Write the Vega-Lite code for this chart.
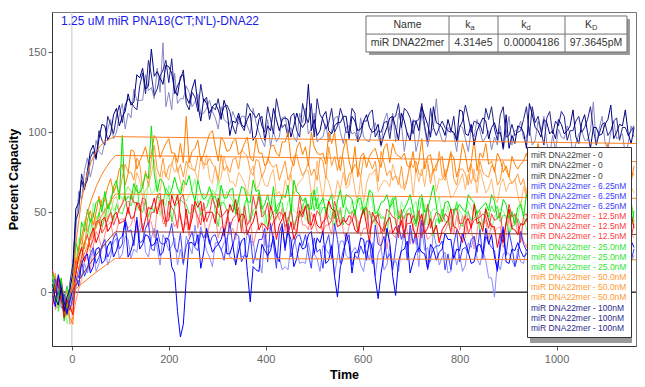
{
"$schema":"https://vega.github.io/schema/vega-lite/v6.json",
"width":584,"height":334,
"autosize":{"type":"none"},
"padding":{"left":52,"top":12,"right":9,"bottom":41},
"background":"#ffffff",
"config":{"view":{"stroke":"#777777"},"axis":{"grid":false,"labelFont":"Liberation Sans","titleFont":"Liberation Sans","labelColor":"#666666","labelFontSize":11,"titleFontSize":12.5,"titleFontWeight":"bold","titleColor":"#000000","domainColor":"#333333","tickColor":"#555555","tickSize":4},"text":{"font":"Liberation Sans"}},
"datasets":{
"zero":[{"t":-41,"s":"z1","v":0},{"t":1164,"s":"z1","v":0},{"t":-41,"s":"z2","v":0},{"t":1164,"s":"z2","v":0},{"t":-41,"s":"z3","v":0},{"t":1164,"s":"z3","v":0}],
"fits":[
{"t":0,"a":0,"b":0,"c":0,"d":0,"e":0},
{"t":10,"a":34.8,"b":19.4,"c":10.1,"d":5.2,"e":2.6},
{"t":20,"a":57.5,"b":35.0,"c":19.2,"d":10.1,"e":5.2},
{"t":30,"a":72.2,"b":47.6,"c":27.3,"d":14.7,"e":7.6},
{"t":40,"a":81.7,"b":57.7,"c":34.6,"d":19.1,"e":10.1},
{"t":50,"a":87.9,"b":65.9,"c":41.2,"d":23.2,"e":12.4},
{"t":60,"a":91.9,"b":72.5,"c":47.1,"d":27.2,"e":14.7},
{"t":70,"a":94.5,"b":77.8,"c":52.4,"d":30.9,"e":16.9},
{"t":80,"a":96.2,"b":82.1,"c":57.1,"d":34.5,"e":19.1},
{"t":90,"a":97.3,"b":85.5,"c":61.4,"d":37.8,"e":21.2},
{"t":600,"a":95.2,"b":83.7,"c":60.1,"d":37.0,"e":20.8},
{"t":1164,"a":93.0,"b":81.7,"c":58.7,"d":36.1,"e":20.3}],
"traces":[
{"t":-40,"n1":5,"n2":-3,"n3":8,"o1":-6,"o2":10,"o3":2,"g1":12,"g2":-4,"g3":3,"r1":-8,"r2":6,"r3":14,"b1":-2,"b2":7,"b3":-9},
{"t":-34,"n1":-4,"n2":9,"n3":1,"o1":4,"o2":-9,"o3":12,"g1":-6,"g2":3,"g3":10,"r1":2,"r2":-11,"r3":5,"b1":-9,"b2":2,"b3":8},
{"t":-28,"n1":-8,"n2":6,"n3":-2,"o1":9,"o2":-5,"o3":-10,"g1":-3,"g2":8,"g3":-12,"r1":10,"r2":-6,"r3":-4,"b1":11,"b2":-7,"b3":4},
{"t":-22,"n1":3,"n2":-10,"n3":7,"o1":-2,"o2":6,"o3":-3,"g1":9,"g2":-7,"g3":-1,"r1":-4,"r2":5,"r3":8,"b1":2,"b2":-2,"b3":-6},
{"t":-16,"n1":-12,"n2":-5,"n3":-9,"o1":-14,"o2":-3,"o3":-8,"g1":-18,"g2":-2,"g3":-7,"r1":-16,"r2":-10,"r3":-4,"b1":-6,"b2":-13,"b3":-1},
{"t":-10,"n1":-3,"n2":4,"n3":-14,"o1":-7,"o2":-15,"o3":2,"g1":-9,"g2":-20,"g3":3,"r1":-5,"r2":-2,"r3":-12,"b1":-13,"b2":-4,"b3":-8},
{"t":-4,"n1":2,"n2":-7,"n3":6,"o1":-16,"o2":-8,"o3":-12,"g1":4,"g2":-10,"g3":-3,"r1":-9,"r2":-20,"r3":-2,"b1":-5,"b2":3,"b3":-11},
{"t":2,"n1":12,"n2":3,"n3":18,"o1":-20,"o2":-12,"o3":-4,"g1":10,"g2":-6,"g3":5,"r1":-14,"r2":-16,"r3":6,"b1":2,"b2":-8,"b3":-3},
{"t":8,"n1":52,"n2":38,"n3":45,"o1":14,"o2":6,"o3":22,"g1":31,"g2":18,"g3":12,"r1":12,"r2":-6,"r3":20,"b1":10,"b2":2,"b3":14},
{"t":14,"n1":56,"n2":63,"n3":50,"o1":28,"o2":10,"o3":18,"g1":24,"g2":34,"g3":22,"r1":22,"r2":2,"r3":14,"b1":4,"b2":15,"b3":9},
{"t":20,"n1":70,"n2":58,"n3":74,"o1":34,"o2":18,"o3":28,"g1":44,"g2":30,"g3":27,"r1":28,"r2":8,"r3":22,"b1":18,"b2":9,"b3":20},
{"t":26,"n1":64,"n2":76,"n3":66,"o1":27,"o2":31,"o3":40,"g1":38,"g2":45,"g3":30,"r1":19,"r2":20,"r3":31,"b1":22,"b2":18,"b3":10},
{"t":32,"n1":76,"n2":84,"n3":70,"o1":45,"o2":30,"o3":38,"g1":52,"g2":40,"g3":35,"r1":26,"r2":22,"r3":36,"b1":24,"b2":12,"b3":15},
{"t":38,"n1":88,"n2":72,"n3":84,"o1":51,"o2":25,"o3":44,"g1":44,"g2":35,"g3":46,"r1":35,"r2":14,"r3":28,"b1":12,"b2":22,"b3":24},
{"t":44,"n1":92,"n2":80,"n3":88,"o1":42,"o2":40,"o3":50,"g1":47,"g2":56,"g3":38,"r1":40,"r2":28,"r3":33,"b1":16,"b2":26,"b3":28},
{"t":50,"n1":84,"n2":95,"n3":83,"o1":50,"o2":47,"o3":40,"g1":56,"g2":47,"g3":42,"r1":31,"r2":38,"r3":44,"b1":27,"b2":13,"b3":18},
{"t":56,"n1":96,"n2":88,"n3":101,"o1":60,"o2":43,"o3":49,"g1":58,"g2":48,"g3":50,"r1":36,"r2":34,"r3":45,"b1":28,"b2":18,"b3":22},
{"t":62,"n1":105,"n2":86,"n3":95,"o1":53,"o2":38,"o3":58,"g1":50,"g2":57,"g3":41,"r1":45,"r2":27,"r3":37,"b1":18,"b2":28,"b3":29},
{"t":68,"n1":104,"n2":94,"n3":92,"o1":58,"o2":52,"o3":60,"g1":63,"g2":52,"g3":46,"r1":47,"r2":36,"r3":40,"b1":20,"b2":30,"b3":33},
{"t":74,"n1":95,"n2":102,"n3":110,"o1":66,"o2":44,"o3":52,"g1":52,"g2":47,"g3":55,"r1":38,"r2":42,"r3":46,"b1":29,"b2":17,"b3":22},
{"t":80,"n1":99,"n2":108,"n3":105,"o1":71,"o2":50,"o3":57,"g1":56,"g2":60,"g3":51,"r1":41,"r2":44,"r3":50,"b1":32,"b2":22,"b3":26},
{"t":86,"n1":111,"n2":96,"n3":99,"o1":62,"o2":58,"o3":64,"g1":66,"g2":51,"g3":45,"r1":48,"r2":34,"r3":42,"b1":22,"b2":31,"b3":34},
{"t":92,"n1":115,"n2":100,"n3":110,"o1":68,"o2":60,"o3":66,"g1":70,"g2":54,"g3":55,"r1":50,"r2":38,"r3":47,"b1":26,"b2":34,"b3":37},
{"t":98,"n1":104,"n2":111,"n3":117,"o1":77,"o2":51,"o3":62,"g1":58,"g2":62,"g3":50,"r1":43,"r2":45,"r3":52,"b1":33,"b2":21,"b3":27},
{"t":104,"n1":110,"n2":118,"n3":106,"o1":80,"o2":56,"o3":72,"g1":98,"g2":58,"g3":49,"r1":44,"r2":46,"r3":55,"b1":35,"b2":24,"b3":30},
{"t":110,"n1":113,"n2":102,"n3":117,"o1":67,"o2":62,"o3":80,"g1":57,"g2":62,"g3":55,"r1":45,"r2":45,"r3":60,"b1":44,"b2":35,"b3":46},
{"t":116,"n1":124,"n2":112,"n3":121,"o1":74,"o2":66,"o3":75,"g1":60,"g2":66,"g3":57,"r1":53,"r2":40,"r3":49,"b1":22,"b2":33,"b3":38},
{"t":122,"n1":117,"n2":109,"n3":119,"o1":89,"o2":63,"o3":75,"g1":58,"g2":63,"g3":54,"r1":46,"r2":42,"r3":61,"b1":26,"b2":21,"b3":39},
{"t":128,"n1":119,"n2":127,"n3":116,"o1":88,"o2":62,"o3":70,"g1":68,"g2":57,"g3":60,"r1":47,"r2":48,"r3":56,"b1":33,"b2":27,"b3":29},
{"t":134,"n1":136,"n2":120,"n3":114,"o1":77,"o2":75,"o3":84,"g1":63,"g2":51,"g3":67,"r1":56,"r2":37,"r3":56,"b1":45,"b2":25,"b3":47},
{"t":140,"n1":134,"n2":120,"n3":129,"o1":82,"o2":70,"o3":80,"g1":62,"g2":64,"g3":52,"r1":55,"r2":42,"r3":51,"b1":27,"b2":38,"b3":31},
{"t":146,"n1":140,"n2":120,"n3":137,"o1":86,"o2":59,"o3":65,"g1":66,"g2":69,"g3":50,"r1":38,"r2":58,"r3":59,"b1":30,"b2":43,"b3":32},
{"t":152,"n1":127,"n2":136,"n3":124,"o1":91,"o2":64,"o3":76,"g1":74,"g2":55,"g3":58,"r1":46,"r2":49,"r3":58,"b1":36,"b2":25,"b3":40},
{"t":158,"n1":129,"n2":126,"n3":145,"o1":81,"o2":67,"o3":66,"g1":71,"g2":69,"g3":47,"r1":53,"r2":45,"r3":41,"b1":35,"b2":22,"b3":44},
{"t":164,"n1":152,"n2":128,"n3":136,"o1":86,"o2":74,"o3":83,"g1":104,"g2":62,"g3":54,"r1":52,"r2":44,"r3":50,"b1":29,"b2":34,"b3":27},
{"t":170,"n1":135,"n2":121,"n3":123,"o1":98,"o2":83,"o3":92,"g1":74,"g2":63,"g3":50,"r1":59,"r2":34,"r3":50,"b1":30,"b2":40,"b3":26},
{"t":176,"n1":138,"n2":140,"n3":127,"o1":95,"o2":68,"o3":77,"g1":63,"g2":70,"g3":60,"r1":49,"r2":52,"r3":60,"b1":34,"b2":28,"b3":39},
{"t":182,"n1":134,"n2":125,"n3":135,"o1":84,"o2":63,"o3":72,"g1":71,"g2":48,"g3":59,"r1":56,"r2":58,"r3":62,"b1":23,"b2":17,"b3":31},
{"t":188,"n1":130,"n2":156,"n3":139,"o1":89,"o2":76,"o3":84,"g1":69,"g2":58,"g3":55,"r1":58,"r2":43,"r3":48,"b1":25,"b2":36,"b3":30},
{"t":194,"n1":142,"n2":116,"n3":145,"o1":93,"o2":73,"o3":72,"g1":62,"g2":54,"g3":65,"r1":44,"r2":43,"r3":41,"b1":34,"b2":32,"b3":31},
{"t":200,"n1":141,"n2":125,"n3":131,"o1":96,"o2":70,"o3":79,"g1":60,"g2":67,"g3":62,"r1":45,"r2":50,"r3":57,"b1":33,"b2":26,"b3":35},
{"t":206,"n1":137,"n2":114,"n3":146,"o1":87,"o2":81,"o3":80,"g1":64,"g2":63,"g3":44,"r1":61,"r2":46,"r3":53,"b1":16,"b2":29,"b3":43},
{"t":212,"n1":126,"n2":137,"n3":124,"o1":87,"o2":75,"o3":86,"g1":72,"g2":60,"g3":53,"r1":54,"r2":41,"r3":50,"b1":12,"b2":34,"b3":28},
{"t":218,"n1":123,"n2":118,"n3":129,"o1":81,"o2":78,"o3":75,"g1":65,"g2":57,"g3":56,"r1":61,"r2":44,"r3":40,"b1":-12,"b2":17,"b3":25},
{"t":224,"n1":135,"n2":121,"n3":133,"o1":93,"o2":69,"o3":80,"g1":61,"g2":66,"g3":58,"r1":47,"r2":49,"r3":59,"b1":-28,"b2":27,"b3":37},
{"t":230,"n1":136,"n2":121,"n3":139,"o1":81,"o2":63,"o3":72,"g1":70,"g2":59,"g3":56,"r1":37,"r2":39,"r3":61,"b1":-20,"b2":17,"b3":18},
{"t":236,"n1":122,"n2":129,"n3":118,"o1":110,"o2":74,"o3":82,"g1":67,"g2":57,"g3":55,"r1":52,"r2":44,"r3":48,"b1":8,"b2":35,"b3":29},
{"t":242,"n1":118,"n2":125,"n3":114,"o1":81,"o2":84,"o3":78,"g1":73,"g2":61,"g3":49,"r1":39,"r2":35,"r3":39,"b1":31,"b2":29,"b3":33},
{"t":248,"n1":127,"n2":116,"n3":125,"o1":88,"o2":78,"o3":77,"g1":63,"g2":64,"g3":50,"r1":46,"r2":51,"r3":55,"b1":31,"b2":24,"b3":38},
{"t":254,"n1":133,"n2":119,"n3":122,"o1":90,"o2":76,"o3":76,"g1":57,"g2":71,"g3":53,"r1":57,"r2":56,"r3":52,"b1":29,"b2":42,"b3":28},
{"t":260,"n1":117,"n2":124,"n3":113,"o1":95,"o2":70,"o3":85,"g1":70,"g2":56,"g3":57,"r1":53,"r2":40,"r3":47,"b1":36,"b2":30,"b3":26},
{"t":266,"n1":107,"n2":111,"n3":130,"o1":82,"o2":85,"o3":85,"g1":62,"g2":58,"g3":48,"r1":57,"r2":53,"r3":42,"b1":15,"b2":41,"b3":38},
{"t":272,"n1":121,"n2":112,"n3":119,"o1":86,"o2":77,"o3":80,"g1":58,"g2":62,"g3":52,"r1":44,"r2":47,"r3":56,"b1":25,"b2":33,"b3":34},
{"t":278,"n1":118,"n2":115,"n3":122,"o1":93,"o2":86,"o3":80,"g1":60,"g2":58,"g3":53,"r1":50,"r2":34,"r3":44,"b1":40,"b2":26,"b3":38},
{"t":284,"n1":112,"n2":120,"n3":108,"o1":99,"o2":71,"o3":84,"g1":66,"g2":55,"g3":59,"r1":50,"r2":42,"r3":49,"b1":32,"b2":22,"b3":30},
{"t":290,"n1":116,"n2":113,"n3":116,"o1":101,"o2":68,"o3":80,"g1":59,"g2":64,"g3":62,"r1":50,"r2":49,"r3":59,"b1":25,"b2":16,"b3":35},
{"t":296,"n1":118,"n2":109,"n3":114,"o1":91,"o2":79,"o3":78,"g1":60,"g2":61,"g3":50,"r1":43,"r2":48,"r3":54,"b1":28,"b2":31,"b3":36},
{"t":302,"n1":114,"n2":102,"n3":121,"o1":82,"o2":67,"o3":70,"g1":53,"g2":70,"g3":41,"r1":59,"r2":34,"r3":49,"b1":30,"b2":31,"b3":30},
{"t":308,"n1":108,"n2":116,"n3":110,"o1":97,"o2":72,"o3":86,"g1":67,"g2":54,"g3":56,"r1":51,"r2":41,"r3":47,"b1":33,"b2":26,"b3":27},
{"t":314,"n1":120,"n2":108,"n3":116,"o1":94,"o2":85,"o3":76,"g1":59,"g2":57,"g3":56,"r1":35,"r2":40,"r3":49,"b1":40,"b2":31,"b3":20},
{"t":320,"n1":114,"n2":106,"n3":117,"o1":88,"o2":78,"o3":79,"g1":59,"g2":63,"g3":51,"r1":45,"r2":47,"r3":52,"b1":24,"b2":34,"b3":32},
{"t":326,"n1":98,"n2":105,"n3":113,"o1":89,"o2":69,"o3":75,"g1":64,"g2":60,"g3":51,"r1":55,"r2":36,"r3":40,"b1":24,"b2":22,"b3":44},
{"t":332,"n1":107,"n2":113,"n3":104,"o1":94,"o2":69,"o3":83,"g1":65,"g2":57,"g3":55,"r1":50,"r2":40,"r3":46,"b1":30,"b2":21,"b3":29},
{"t":338,"n1":106,"n2":108,"n3":99,"o1":96,"o2":66,"o3":84,"g1":49,"g2":51,"g3":51,"r1":58,"r2":33,"r3":48,"b1":17,"b2":19,"b3":37},
{"t":344,"n1":112,"n2":105,"n3":110,"o1":86,"o2":75,"o3":77,"g1":58,"g2":60,"g3":49,"r1":44,"r2":46,"r3":53,"b1":26,"b2":32,"b3":35},
{"t":350,"n1":105,"n2":110,"n3":104,"o1":88,"o2":72,"o3":89,"g1":66,"g2":44,"g3":40,"r1":49,"r2":45,"r3":37,"b1":32,"b2":22,"b3":19},
{"t":356,"n1":103,"n2":110,"n3":101,"o1":93,"o2":68,"o3":87,"g1":65,"g2":48,"g3":55,"r1":48,"r2":36,"r3":54,"b1":34,"b2":23,"b3":23},
{"t":362,"n1":108,"n2":104,"n3":118,"o1":97,"o2":61,"o3":85,"g1":57,"g2":63,"g3":59,"r1":36,"r2":42,"r3":42,"b1":13,"b2":39,"b3":22},
{"t":368,"n1":112,"n2":99,"n3":114,"o1":84,"o2":75,"o3":76,"g1":56,"g2":60,"g3":44,"r1":41,"r2":47,"r3":45,"b1":-6,"b2":31,"b3":36},
{"t":374,"n1":95,"n2":115,"n3":112,"o1":82,"o2":79,"o3":73,"g1":70,"g2":48,"g3":51,"r1":44,"r2":29,"r3":60,"b1":16,"b2":32,"b3":18},
{"t":380,"n1":98,"n2":106,"n3":109,"o1":96,"o2":64,"o3":83,"g1":63,"g2":51,"g3":53,"r1":51,"r2":37,"r3":52,"b1":14,"b2":20,"b3":25},
{"t":386,"n1":108,"n2":100,"n3":112,"o1":87,"o2":67,"o3":82,"g1":64,"g2":63,"g3":62,"r1":39,"r2":42,"r3":60,"b1":13,"b2":21,"b3":33},
{"t":392,"n1":110,"n2":95,"n3":104,"o1":87,"o2":73,"o3":72,"g1":52,"g2":57,"g3":49,"r1":43,"r2":44,"r3":47,"b1":30,"b2":12,"b3":33},
{"t":398,"n1":95,"n2":91,"n3":100,"o1":79,"o2":67,"o3":76,"g1":55,"g2":42,"g3":51,"r1":42,"r2":29,"r3":49,"b1":26,"b2":36,"b3":40},
{"t":404,"n1":104,"n2":108,"n3":116,"o1":81,"o2":66,"o3":84,"g1":61,"g2":49,"g3":41,"r1":39,"r2":40,"r3":56,"b1":23,"b2":28,"b3":19},
{"t":410,"n1":101,"n2":91,"n3":108,"o1":91,"o2":73,"o3":80,"g1":52,"g2":45,"g3":47,"r1":54,"r2":40,"r3":39,"b1":26,"b2":29,"b3":43},
{"t":416,"n1":115,"n2":101,"n3":99,"o1":92,"o2":77,"o3":78,"g1":66,"g2":58,"g3":50,"r1":48,"r2":35,"r3":44,"b1":35,"b2":33,"b3":31},
{"t":422,"n1":108,"n2":94,"n3":121,"o1":87,"o2":61,"o3":80,"g1":49,"g2":45,"g3":53,"r1":33,"r2":53,"r3":47,"b1":23,"b2":21,"b3":15},
{"t":428,"n1":101,"n2":97,"n3":112,"o1":85,"o2":63,"o3":70,"g1":54,"g2":53,"g3":56,"r1":42,"r2":45,"r3":50,"b1":19,"b2":22,"b3":37},
{"t":434,"n1":108,"n2":109,"n3":103,"o1":94,"o2":58,"o3":76,"g1":61,"g2":55,"g3":56,"r1":46,"r2":53,"r3":49,"b1":41,"b2":14,"b3":43},
{"t":440,"n1":109,"n2":110,"n3":105,"o1":94,"o2":70,"o3":82,"g1":59,"g2":47,"g3":46,"r1":50,"r2":38,"r3":41,"b1":28,"b2":16,"b3":26},
{"t":446,"n1":108,"n2":100,"n3":97,"o1":100,"o2":64,"o3":70,"g1":67,"g2":57,"g3":41,"r1":36,"r2":47,"r3":45,"b1":38,"b2":14,"b3":43},
{"t":452,"n1":97,"n2":103,"n3":110,"o1":83,"o2":74,"o3":75,"g1":50,"g2":59,"g3":52,"r1":44,"r2":43,"r3":53,"b1":33,"b2":29,"b3":22},
{"t":458,"n1":104,"n2":97,"n3":112,"o1":79,"o2":61,"o3":85,"g1":70,"g2":51,"g3":41,"r1":33,"r2":42,"r3":39,"b1":16,"b2":36,"b3":30},
{"t":464,"n1":112,"n2":94,"n3":101,"o1":90,"o2":66,"o3":86,"g1":63,"g2":50,"g3":47,"r1":38,"r2":36,"r3":46,"b1":21,"b2":26,"b3":35},
{"t":470,"n1":106,"n2":112,"n3":97,"o1":94,"o2":69,"o3":78,"g1":61,"g2":48,"g3":47,"r1":51,"r2":53,"r3":60,"b1":31,"b2":18,"b3":36},
{"t":476,"n1":103,"n2":106,"n3":118,"o1":86,"o2":71,"o3":73,"g1":57,"g2":55,"g3":53,"r1":47,"r2":42,"r3":49,"b1":27,"b2":19,"b3":29},
{"t":482,"n1":106,"n2":115,"n3":110,"o1":91,"o2":76,"o3":76,"g1":59,"g2":45,"g3":59,"r1":54,"r2":42,"r3":54,"b1":28,"b2":18,"b3":36},
{"t":488,"n1":130,"n2":99,"n3":106,"o1":79,"o2":76,"o3":81,"g1":52,"g2":48,"g3":43,"r1":43,"r2":39,"r3":55,"b1":36,"b2":31,"b3":24},
{"t":494,"n1":101,"n2":102,"n3":118,"o1":100,"o2":61,"o3":73,"g1":52,"g2":60,"g3":62,"r1":42,"r2":50,"r3":39,"b1":38,"b2":21,"b3":15},
{"t":500,"n1":108,"n2":112,"n3":97,"o1":91,"o2":65,"o3":77,"g1":64,"g2":57,"g3":51,"r1":49,"r2":45,"r3":43,"b1":24,"b2":24,"b3":34},
{"t":506,"n1":98,"n2":94,"n3":121,"o1":87,"o2":82,"o3":70,"g1":52,"g2":66,"g3":59,"r1":42,"r2":38,"r3":51,"b1":34,"b2":21,"b3":25},
{"t":512,"n1":101,"n2":96,"n3":111,"o1":86,"o2":69,"o3":84,"g1":55,"g2":51,"g3":48,"r1":40,"r2":37,"r3":48,"b1":31,"b2":13,"b3":27},
{"t":518,"n1":110,"n2":97,"n3":108,"o1":87,"o2":58,"o3":82,"g1":59,"g2":57,"g3":53,"r1":44,"r2":38,"r3":36,"b1":38,"b2":29,"b3":15},
{"t":524,"n1":113,"n2":105,"n3":102,"o1":80,"o2":73,"o3":71,"g1":50,"g2":58,"g3":53,"r1":46,"r2":42,"r3":52,"b1":18,"b2":27,"b3":30},
{"t":530,"n1":101,"n2":94,"n3":106,"o1":100,"o2":69,"o3":91,"g1":57,"g2":57,"g3":47,"r1":57,"r2":42,"r3":42,"b1":20,"b2":24,"b3":36},
{"t":536,"n1":99,"n2":101,"n3":115,"o1":93,"o2":62,"o3":79,"g1":61,"g2":46,"g3":45,"r1":52,"r2":36,"r3":45,"b1":29,"b2":30,"b3":21},
{"t":542,"n1":104,"n2":109,"n3":100,"o1":100,"o2":58,"o3":85,"g1":46,"g2":48,"g3":41,"r1":51,"r2":53,"r3":57,"b1":10,"b2":11,"b3":43},
{"t":548,"n1":106,"n2":110,"n3":104,"o1":84,"o2":70,"o3":76,"g1":57,"g2":54,"g3":50,"r1":41,"r2":44,"r3":50,"b1":-3,"b2":22,"b3":33},
{"t":554,"n1":106,"n2":100,"n3":115,"o1":76,"o2":64,"o3":85,"g1":64,"g2":42,"g3":51,"r1":42,"r2":53,"r3":42,"b1":16,"b2":32,"b3":18},
{"t":560,"n1":110,"n2":93,"n3":109,"o1":89,"o2":75,"o3":83,"g1":53,"g2":60,"g3":42,"r1":45,"r2":38,"r3":47,"b1":22,"b2":32,"b3":26},
{"t":566,"n1":110,"n2":103,"n3":100,"o1":96,"o2":65,"o3":67,"g1":61,"g2":54,"g3":53,"r1":44,"r2":33,"r3":43,"b1":37,"b2":23,"b3":32},
{"t":572,"n1":96,"n2":104,"n3":100,"o1":82,"o2":67,"o3":74,"g1":60,"g2":49,"g3":49,"r1":48,"r2":41,"r3":42,"b1":30,"b2":21,"b3":36},
{"t":578,"n1":110,"n2":99,"n3":115,"o1":75,"o2":77,"o3":75,"g1":58,"g2":57,"g3":50,"r1":46,"r2":51,"r3":45,"b1":12,"b2":25,"b3":17},
{"t":584,"n1":107,"n2":100,"n3":112,"o1":91,"o2":64,"o3":80,"g1":48,"g2":55,"g3":52,"r1":39,"r2":46,"r3":51,"b1":25,"b2":28,"b3":23},
{"t":590,"n1":101,"n2":94,"n3":94,"o1":72,"o2":56,"o3":77,"g1":58,"g2":60,"g3":38,"r1":37,"r2":45,"r3":37,"b1":25,"b2":25,"b3":21},
{"t":596,"n1":102,"n2":109,"n3":98,"o1":85,"o2":72,"o3":72,"g1":59,"g2":51,"g3":46,"r1":46,"r2":35,"r3":46,"b1":34,"b2":17,"b3":29},
{"t":602,"n1":107,"n2":97,"n3":107,"o1":87,"o2":56,"o3":85,"g1":49,"g2":57,"g3":53,"r1":52,"r2":40,"r3":52,"b1":33,"b2":13,"b3":24},
{"t":608,"n1":111,"n2":95,"n3":107,"o1":78,"o2":68,"o3":84,"g1":55,"g2":45,"g3":51,"r1":42,"r2":40,"r3":53,"b1":20,"b2":26,"b3":32},
{"t":614,"n1":103,"n2":94,"n3":112,"o1":85,"o2":74,"o3":82,"g1":64,"g2":63,"g3":50,"r1":31,"r2":51,"r3":37,"b1":33,"b2":20,"b3":32},
{"t":620,"n1":100,"n2":103,"n3":114,"o1":88,"o2":74,"o3":77,"g1":62,"g2":56,"g3":44,"r1":50,"r2":43,"r3":44,"b1":27,"b2":31,"b3":18},
{"t":626,"n1":101,"n2":106,"n3":97,"o1":90,"o2":77,"o3":82,"g1":49,"g2":42,"g3":46,"r1":46,"r2":48,"r3":45,"b1":9,"b2":10,"b3":42},
{"t":632,"n1":105,"n2":98,"n3":101,"o1":83,"o2":63,"o3":69,"g1":51,"g2":52,"g3":50,"r1":43,"r2":37,"r3":49,"b1":-4,"b2":24,"b3":30},
{"t":638,"n1":92,"n2":91,"n3":100,"o1":78,"o2":67,"o3":88,"g1":56,"g2":48,"g3":46,"r1":40,"r2":27,"r3":37,"b1":12,"b2":28,"b3":29},
{"t":644,"n1":98,"n2":107,"n3":106,"o1":90,"o2":70,"o3":81,"g1":57,"g2":47,"g3":47,"r1":38,"r2":44,"r3":41,"b1":23,"b2":14,"b3":35},
{"t":650,"n1":103,"n2":112,"n3":107,"o1":93,"o2":69,"o3":73,"g1":61,"g2":42,"g3":35,"r1":44,"r2":27,"r3":52,"b1":40,"b2":17,"b3":21},
{"t":656,"n1":109,"n2":101,"n3":96,"o1":81,"o2":66,"o3":76,"g1":53,"g2":54,"g3":53,"r1":47,"r2":39,"r3":50,"b1":31,"b2":29,"b3":24},
{"t":662,"n1":110,"n2":112,"n3":109,"o1":93,"o2":80,"o3":70,"g1":56,"g2":60,"g3":59,"r1":37,"r2":36,"r3":47,"b1":10,"b2":17,"b3":14},
{"t":668,"n1":103,"n2":94,"n3":110,"o1":87,"o2":73,"o3":73,"g1":60,"g2":50,"g3":43,"r1":41,"r2":34,"r3":46,"b1":-2,"b2":20,"b3":28},
{"t":674,"n1":95,"n2":112,"n3":118,"o1":85,"o2":71,"o3":67,"g1":46,"g2":45,"g3":38,"r1":37,"r2":51,"r3":34,"b1":19,"b2":13,"b3":42},
{"t":680,"n1":112,"n2":105,"n3":103,"o1":84,"o2":65,"o3":79,"g1":49,"g2":57,"g3":48,"r1":45,"r2":42,"r3":52,"b1":26,"b2":27,"b3":33},
{"t":686,"n1":107,"n2":88,"n3":115,"o1":87,"o2":67,"o3":64,"g1":52,"g2":50,"g3":46,"r1":34,"r2":48,"r3":37,"b1":27,"b2":38,"b3":39},
{"t":692,"n1":99,"n2":100,"n3":113,"o1":79,"o2":71,"o3":70,"g1":56,"g2":48,"g3":51,"r1":49,"r2":38,"r3":43,"b1":32,"b2":23,"b3":20},
{"t":698,"n1":95,"n2":97,"n3":109,"o1":78,"o2":80,"o3":82,"g1":61,"g2":50,"g3":53,"r1":49,"r2":30,"r3":43,"b1":12,"b2":38,"b3":42},
{"t":704,"n1":107,"n2":108,"n3":99,"o1":88,"o2":60,"o3":78,"g1":52,"g2":53,"g3":45,"r1":40,"r2":43,"r3":48,"b1":19,"b2":30,"b3":31},
{"t":710,"n1":107,"n2":88,"n3":107,"o1":75,"o2":77,"o3":82,"g1":43,"g2":57,"g3":41,"r1":34,"r2":30,"r3":43,"b1":25,"b2":34,"b3":37},
{"t":716,"n1":101,"n2":96,"n3":108,"o1":82,"o2":69,"o3":74,"g1":58,"g2":45,"g3":49,"r1":44,"r2":36,"r3":51,"b1":28,"b2":16,"b3":25},
{"t":722,"n1":116,"n2":112,"n3":118,"o1":96,"o2":77,"o3":73,"g1":61,"g2":45,"g3":59,"r1":49,"r2":48,"r3":34,"b1":25,"b2":40,"b3":45},
{"t":728,"n1":110,"n2":102,"n3":104,"o1":77,"o2":66,"o3":82,"g1":50,"g2":55,"g3":42,"r1":37,"r2":40,"r3":45,"b1":24,"b2":26,"b3":34},
{"t":734,"n1":105,"n2":91,"n3":94,"o1":85,"o2":80,"o3":82,"g1":52,"g2":42,"g3":53,"r1":40,"r2":33,"r3":55,"b1":15,"b2":28,"b3":14},
{"t":740,"n1":97,"n2":99,"n3":115,"o1":86,"o2":72,"o3":68,"g1":59,"g2":49,"g3":50,"r1":46,"r2":35,"r3":40,"b1":30,"b2":19,"b3":22},
{"t":746,"n1":116,"n2":103,"n3":103,"o1":75,"o2":77,"o3":77,"g1":67,"g2":52,"g3":35,"r1":37,"r2":38,"r3":45,"b1":27,"b2":38,"b3":27},
{"t":752,"n1":106,"n2":121,"n3":98,"o1":80,"o2":63,"o3":76,"g1":54,"g2":52,"g3":46,"r1":42,"r2":41,"r3":50,"b1":20,"b2":29,"b3":29},
{"t":758,"n1":105,"n2":101,"n3":103,"o1":83,"o2":71,"o3":88,"g1":43,"g2":60,"g3":44,"r1":31,"r2":33,"r3":49,"b1":25,"b2":17,"b3":29},
{"t":764,"n1":103,"n2":95,"n3":107,"o1":85,"o2":70,"o3":73,"g1":47,"g2":46,"g3":52,"r1":39,"r2":37,"r3":44,"b1":27,"b2":22,"b3":32},
{"t":770,"n1":98,"n2":94,"n3":103,"o1":72,"o2":77,"o3":70,"g1":56,"g2":48,"g3":44,"r1":42,"r2":38,"r3":49,"b1":37,"b2":25,"b3":14},
{"t":776,"n1":108,"n2":103,"n3":101,"o1":78,"o2":67,"o3":79,"g1":57,"g2":54,"g3":44,"r1":45,"r2":43,"r3":47,"b1":33,"b2":12,"b3":24},
{"t":782,"n1":101,"n2":101,"n3":100,"o1":87,"o2":59,"o3":88,"g1":52,"g2":42,"g3":38,"r1":52,"r2":48,"r3":37,"b1":33,"b2":13,"b3":14},
{"t":788,"n1":100,"n2":99,"n3":110,"o1":84,"o2":61,"o3":71,"g1":51,"g2":48,"g3":48,"r1":41,"r2":36,"r3":52,"b1":21,"b2":27,"b3":30},
{"t":794,"n1":95,"n2":88,"n3":94,"o1":72,"o2":65,"o3":67,"g1":52,"g2":57,"g3":56,"r1":40,"r2":48,"r3":52,"b1":27,"b2":17,"b3":39},
{"t":800,"n1":114,"n2":104,"n3":103,"o1":79,"o2":69,"o3":77,"g1":55,"g2":51,"g3":43,"r1":36,"r2":39,"r3":43,"b1":26,"b2":24,"b3":19},
{"t":806,"n1":113,"n2":103,"n3":107,"o1":93,"o2":74,"o3":77,"g1":52,"g2":48,"g3":41,"r1":31,"r2":48,"r3":43,"b1":37,"b2":13,"b3":27},
{"t":812,"n1":99,"n2":96,"n3":117,"o1":86,"o2":64,"o3":74,"g1":50,"g2":45,"g3":49,"r1":44,"r2":34,"r3":48,"b1":31,"b2":17,"b3":28},
{"t":818,"n1":98,"n2":88,"n3":109,"o1":75,"o2":74,"o3":67,"g1":61,"g2":57,"g3":50,"r1":46,"r2":51,"r3":37,"b1":25,"b2":31,"b3":24},
{"t":824,"n1":105,"n2":102,"n3":100,"o1":81,"o2":68,"o3":80,"g1":58,"g2":53,"g3":45,"r1":40,"r2":40,"r3":41,"b1":18,"b2":28,"b3":33},
{"t":830,"n1":92,"n2":97,"n3":107,"o1":96,"o2":77,"o3":70,"g1":56,"g2":48,"g3":46,"r1":55,"r2":27,"r3":45,"b1":19,"b2":35,"b3":35},
{"t":836,"n1":101,"n2":108,"n3":106,"o1":76,"o2":62,"o3":69,"g1":49,"g2":49,"g3":51,"r1":43,"r2":37,"r3":46,"b1":29,"b2":21,"b3":25},
{"t":842,"n1":105,"n2":101,"n3":105,"o1":87,"o2":77,"o3":82,"g1":52,"g2":42,"g3":38,"r1":44,"r2":51,"r3":47,"b1":30,"b2":17,"b3":39},
{"t":848,"n1":109,"n2":94,"n3":99,"o1":84,"o2":70,"o3":75,"g1":54,"g2":44,"g3":42,"r1":38,"r2":42,"r3":49,"b1":24,"b2":26,"b3":21},
{"t":854,"n1":107,"n2":97,"n3":115,"o1":93,"o2":62,"o3":73,"g1":56,"g2":48,"g3":53,"r1":52,"r2":45,"r3":47,"b1":40,"b2":20,"b3":35},
{"t":860,"n1":96,"n2":101,"n3":108,"o1":80,"o2":65,"o3":72,"g1":51,"g2":50,"g3":47,"r1":45,"r2":33,"r3":40,"b1":30,"b2":9,"b3":31},
{"t":866,"n1":103,"n2":89,"n3":116,"o1":82,"o2":71,"o3":79,"g1":61,"g2":39,"g3":54,"r1":41,"r2":43,"r3":49,"b1":36,"b2":9,"b3":28},
{"t":872,"n1":106,"n2":97,"n3":102,"o1":75,"o2":59,"o3":78,"g1":57,"g2":47,"g3":50,"r1":41,"r2":38,"r3":45,"b1":22,"b2":-3,"b3":26},
{"t":878,"n1":99,"n2":92,"n3":95,"o1":87,"o2":56,"o3":67,"g1":46,"g2":51,"g3":54,"r1":28,"r2":40,"r3":46,"b1":14,"b2":19,"b3":13},
{"t":884,"n1":100,"n2":104,"n3":111,"o1":83,"o2":67,"o3":70,"g1":48,"g2":52,"g3":44,"r1":37,"r2":41,"r3":50,"b1":28,"b2":14,"b3":34},
{"t":890,"n1":90,"n2":89,"n3":116,"o1":75,"o2":71,"o3":82,"g1":58,"g2":51,"g3":48,"r1":31,"r2":28,"r3":34,"b1":39,"b2":24,"b3":41},
{"t":896,"n1":111,"n2":99,"n3":97,"o1":79,"o2":63,"o3":76,"g1":55,"g2":46,"g3":48,"r1":44,"r2":35,"r3":42,"b1":19,"b2":25,"b3":23},
{"t":902,"n1":90,"n2":110,"n3":98,"o1":72,"o2":68,"o3":72,"g1":46,"g2":36,"g3":36,"r1":52,"r2":46,"r3":55,"b1":18,"b2":24,"b3":38},
{"t":908,"n1":98,"n2":92,"n3":105,"o1":85,"o2":68,"o3":68,"g1":50,"g2":51,"g3":41,"r1":40,"r2":39,"r3":47,"b1":27,"b2":20,"b3":29},
{"t":914,"n1":93,"n2":101,"n3":98,"o1":80,"o2":71,"o3":70,"g1":43,"g2":42,"g3":42,"r1":39,"r2":49,"r3":49,"b1":26,"b2":16,"b3":16},
{"t":920,"n1":104,"n2":101,"n3":100,"o1":77,"o2":61,"o3":74,"g1":53,"g2":45,"g3":46,"r1":36,"r2":36,"r3":44,"b1":31,"b2":27,"b3":22},
{"t":926,"n1":103,"n2":107,"n3":101,"o1":80,"o2":53,"o3":67,"g1":55,"g2":57,"g3":42,"r1":43,"r2":38,"r3":31,"b1":26,"b2":19,"b3":38},
{"t":932,"n1":100,"n2":96,"n3":108,"o1":82,"o2":66,"o3":71,"g1":47,"g2":49,"g3":43,"r1":42,"r2":32,"r3":48,"b1":22,"b2":18,"b3":30},
{"t":938,"n1":90,"n2":97,"n3":116,"o1":87,"o2":59,"o3":61,"g1":61,"g2":39,"g3":46,"r1":46,"r2":28,"r3":49,"b1":24,"b2":27,"b3":26},
{"t":944,"n1":118,"n2":103,"n3":98,"o1":78,"o2":60,"o3":77,"g1":54,"g2":44,"g3":47,"r1":38,"r2":38,"r3":41,"b1":26,"b2":24,"b3":26},
{"t":950,"n1":111,"n2":92,"n3":116,"o1":69,"o2":62,"o3":67,"g1":61,"g2":39,"g3":57,"r1":43,"r2":34,"r3":49,"b1":11,"b2":22,"b3":31},
{"t":956,"n1":103,"n2":95,"n3":106,"o1":84,"o2":67,"o3":69,"g1":50,"g2":50,"g3":40,"r1":43,"r2":34,"r3":46,"b1":20,"b2":15,"b3":32},
{"t":962,"n1":101,"n2":107,"n3":110,"o1":93,"o2":59,"o3":61,"g1":43,"g2":49,"g3":42,"r1":41,"r2":40,"r3":34,"b1":36,"b2":19,"b3":20},
{"t":968,"n1":97,"n2":100,"n3":101,"o1":76,"o2":63,"o3":75,"g1":46,"g2":46,"g3":45,"r1":39,"r2":40,"r3":43,"b1":29,"b2":26,"b3":21},
{"t":974,"n1":108,"n2":110,"n3":92,"o1":82,"o2":77,"o3":64,"g1":51,"g2":51,"g3":39,"r1":49,"r2":36,"r3":40,"b1":26,"b2":27,"b3":16},
{"t":980,"n1":106,"n2":93,"n3":109,"o1":81,"o2":58,"o3":72,"g1":55,"g2":48,"g3":48,"r1":35,"r2":35,"r3":49,"b1":23,"b2":21,"b3":27},
{"t":986,"n1":99,"n2":86,"n3":113,"o1":90,"o2":71,"o3":72,"g1":46,"g2":36,"g3":57,"r1":31,"r2":40,"r3":44,"b1":21,"b2":19,"b3":38},
{"t":992,"n1":101,"n2":98,"n3":99,"o1":79,"o2":65,"o3":66,"g1":49,"g2":43,"g3":42,"r1":41,"r2":37,"r3":40,"b1":27,"b2":17,"b3":30},
{"t":998,"n1":96,"n2":89,"n3":107,"o1":84,"o2":64,"o3":64,"g1":64,"g2":49,"g3":33,"r1":37,"r2":43,"r3":37,"b1":29,"b2":37,"b3":13},
{"t":1004,"n1":108,"n2":102,"n3":104,"o1":74,"o2":61,"o3":74,"g1":52,"g2":50,"g3":46,"r1":37,"r2":33,"r3":45,"b1":21,"b2":25,"b3":24},
{"t":1010,"n1":105,"n2":97,"n3":113,"o1":82,"o2":56,"o3":70,"g1":64,"g2":36,"g3":51,"r1":34,"r2":38,"r3":52,"b1":14,"b2":22,"b3":23},
{"t":1016,"n1":99,"n2":96,"n3":110,"o1":83,"o2":67,"o3":70,"g1":45,"g2":45,"g3":41,"r1":42,"r2":39,"r3":42,"b1":30,"b2":20,"b3":31},
{"t":1022,"n1":101,"n2":104,"n3":95,"o1":78,"o2":74,"o3":76,"g1":40,"g2":49,"g3":39,"r1":52,"r2":36,"r3":34,"b1":32,"b2":9,"b3":31},
{"t":1028,"n1":104,"n2":99,"n3":101,"o1":78,"o2":62,"o3":76,"g1":53,"g2":49,"g3":47,"r1":38,"r2":34,"r3":47,"b1":24,"b2":28,"b3":25},
{"t":1034,"n1":114,"n2":86,"n3":101,"o1":80,"o2":68,"o3":82,"g1":46,"g2":54,"g3":36,"r1":41,"r2":25,"r3":55,"b1":21,"b2":34,"b3":20},
{"t":1040,"n1":97,"n2":93,"n3":107,"o1":82,"o2":59,"o3":68,"g1":48,"g2":44,"g3":43,"r1":40,"r2":37,"r3":39,"b1":18,"b2":22,"b3":29},
{"t":1046,"n1":93,"n2":99,"n3":110,"o1":69,"o2":59,"o3":85,"g1":55,"g2":45,"g3":54,"r1":39,"r2":31,"r3":46,"b1":11,"b2":24,"b3":41},
{"t":1052,"n1":106,"n2":101,"n3":100,"o1":77,"o2":65,"o3":73,"g1":54,"g2":48,"g3":46,"r1":36,"r2":35,"r3":45,"b1":28,"b2":15,"b3":33},
{"t":1058,"n1":111,"n2":95,"n3":103,"o1":84,"o2":56,"o3":74,"g1":58,"g2":42,"g3":44,"r1":28,"r2":49,"r3":40,"b1":29,"b2":12,"b3":34},
{"t":1064,"n1":100,"n2":95,"n3":108,"o1":81,"o2":62,"o3":70,"g1":49,"g2":42,"g3":41,"r1":41,"r2":38,"r3":41,"b1":23,"b2":26,"b3":23},
{"t":1070,"n1":90,"n2":101,"n3":116,"o1":75,"o2":66,"o3":79,"g1":49,"g2":57,"g3":46,"r1":31,"r2":34,"r3":31,"b1":39,"b2":30,"b3":26},
{"t":1076,"n1":103,"n2":119,"n3":102,"o1":75,"o2":66,"o3":75,"g1":52,"g2":50,"g3":45,"r1":39,"r2":33,"r3":46,"b1":29,"b2":21,"b3":28},
{"t":1082,"n1":103,"n2":92,"n3":92,"o1":90,"o2":68,"o3":64,"g1":51,"g2":60,"g3":48,"r1":46,"r2":31,"r3":42,"b1":26,"b2":16,"b3":13},
{"t":1088,"n1":98,"n2":102,"n3":99,"o1":80,"o2":60,"o3":67,"g1":46,"g2":45,"g3":48,"r1":43,"r2":36,"r3":40,"b1":20,"b2":19,"b3":31},
{"t":1094,"n1":99,"n2":110,"n3":105,"o1":72,"o2":53,"o3":72,"g1":61,"g2":51,"g3":33,"r1":37,"r2":28,"r3":49,"b1":36,"b2":24,"b3":31},
{"t":1100,"n1":105,"n2":94,"n3":106,"o1":84,"o2":64,"o3":72,"g1":51,"g2":47,"g3":43,"r1":37,"r2":39,"r3":44,"b1":26,"b2":27,"b3":24},
{"t":1106,"n1":108,"n2":89,"n3":98,"o1":93,"o2":64,"o3":82,"g1":53,"g2":36,"g3":42,"r1":43,"r2":46,"r3":37,"b1":14,"b2":37,"b3":23},
{"t":1112,"n1":117,"n2":100,"n3":101,"o1":76,"o2":58,"o3":69,"g1":55,"g2":43,"g3":46,"r1":40,"r2":34,"r3":47,"b1":31,"b2":22,"b3":29},
{"t":1118,"n1":96,"n2":107,"n3":107,"o1":78,"o2":77,"o3":61,"g1":43,"g2":47,"g3":51,"r1":34,"r2":38,"r3":55,"b1":24,"b2":9,"b3":38},
{"t":1124,"n1":100,"n2":96,"n3":109,"o1":81,"o2":63,"o3":74,"g1":48,"g2":49,"g3":40,"r1":36,"r2":37,"r3":41,"b1":22,"b2":16,"b3":26},
{"t":1130,"n1":105,"n2":97,"n3":95,"o1":87,"o2":62,"o3":67,"g1":64,"g2":49,"g3":54,"r1":28,"r2":40,"r3":44,"b1":18,"b2":34,"b3":16},
{"t":1136,"n1":104,"n2":99,"n3":103,"o1":78,"o2":61,"o3":71,"g1":53,"g2":44,"g3":45,"r1":42,"r2":32,"r3":45,"b1":27,"b2":24,"b3":30},
{"t":1142,"n1":114,"n2":86,"n3":103,"o1":82,"o2":74,"o3":70,"g1":55,"g2":39,"g3":39,"r1":46,"r2":25,"r3":42,"b1":21,"b2":27,"b3":28},
{"t":1148,"n1":99,"n2":93,"n3":98,"o1":83,"o2":66,"o3":66,"g1":47,"g2":48,"g3":42,"r1":38,"r2":36,"r3":39,"b1":24,"b2":20,"b3":23},
{"t":1154,"n1":93,"n2":104,"n3":101,"o1":69,"o2":66,"o3":76,"g1":40,"g2":42,"g3":57,"r1":49,"r2":36,"r3":34,"b1":32,"b2":19,"b3":20},
{"t":1160,"n1":103,"n2":97,"n3":104,"o1":79,"o2":62,"o3":73,"g1":51,"g2":45,"g3":44,"r1":40,"r2":34,"r3":43,"b1":28,"b2":23,"b3":27}
]},
"layer":[
{"data":{"values":[{}]},"mark":{"type":"rule","color":"#c8c8c8","strokeWidth":1},"encoding":{"x":{"datum":0}}},
{"data":{"name":"zero"},"mark":{"type":"line","strokeWidth":1},"encoding":{
 "x":{"field":"t","type":"quantitative","title":"Time"},
 "y":{"field":"v","type":"quantitative","title":"Percent Capacity"},
 "color":{"field":"s","type":"nominal"}}},
{"data":{"name":"traces"},
 "transform":[{"fold":["o2","g2","r2","b2","n2","o3","g3","r3","b3","n3","o1","g1","r1","b1","n1"],"as":["s","v"]}],
 "mark":{"type":"line","strokeWidth":1,"clip":true},
 "encoding":{
 "x":{"field":"t","type":"quantitative","title":"Time","scale":{"domain":[-41,1164],"nice":false,"zero":false},"axis":{"values":[0,200,400,600,800,1000],"format":"d","labelPadding":3,"titlePadding":4}},
 "y":{"field":"v","type":"quantitative","title":"Percent Capacity","scale":{"domain":[-33.6,175.2],"nice":false,"zero":false},"axis":{"values":[0,50,100,150],"labelPadding":2,"titlePadding":7}},
 "color":{"field":"s","type":"nominal",
  "scale":{"domain":["z1","z2","z3","b1","b2","b3","r1","r2","r3","g1","g2","g3","o1","o2","o3","n1","n2","n3"],
   "range":["#404040","#404040","#404040","#0000ff","#8c8cff","#3a3aff","#ff0000","#ff8c8c","#ff3a3a","#00e600","#8cff8c","#3aee3a","#ff8000","#ffb870","#ff9a35","#000080","#8888c4","#22228e"]},
  "legend":{"title":null,"orient":"none","legendX":475,"legendY":135,"padding":4,"fillColor":"#ffffff","strokeColor":"#333333","labelFont":"Liberation Sans","labelFontSize":8.5,"labelOffset":-8.5,"symbolSize":0,"symbolStrokeWidth":0,"symbolOpacity":0,"rowPadding":1.15,"labelLimit":200,
   "labelExpr":"substring(datum.value,0,1)=='z' ? 'miR DNA22mer - 0' : substring(datum.value,0,1)=='b' ? 'miR DNA22mer - 6.25nM' : substring(datum.value,0,1)=='r' ? 'miR DNA22mer - 12.5nM' : substring(datum.value,0,1)=='g' ? 'miR DNA22mer - 25.0nM' : substring(datum.value,0,1)=='o' ? 'miR DNA22mer - 50.0nM' : 'miR DNA22mer - 100nM'",
   "encoding":{"labels":{"fill":{"condition":[{"test":"substring(datum.value,0,1)=='b'","value":"#3c3cff"},{"test":"substring(datum.value,0,1)=='r'","value":"#ff3c3c"},{"test":"substring(datum.value,0,1)=='g'","value":"#2ee62e"},{"test":"substring(datum.value,0,1)=='o'","value":"#ff9a30"},{"test":"substring(datum.value,0,1)=='n'","value":"#2a2a8a"}],"value":"#404040"}}}}}}},
{"data":{"name":"fits"},"transform":[{"fold":["a","b","c","e"],"as":["fit","v"]}],
 "mark":{"type":"line","color":"#ff7f1e","strokeWidth":1},
 "encoding":{"x":{"field":"t","type":"quantitative","title":"Time"},"y":{"field":"v","type":"quantitative","title":"Percent Capacity"},"detail":{"field":"fit"}}},
{"data":{"name":"fits"},"transform":[{"fold":["d"],"as":["fit","v"]}],
 "mark":{"type":"line","color":"#8b3b30","strokeWidth":1},
 "encoding":{"x":{"field":"t","type":"quantitative","title":"Time"},"y":{"field":"v","type":"quantitative","title":"Percent Capacity"},"detail":{"field":"fit"}}},
{"data":{"values":[{}]},"mark":{"type":"rect","fill":"#9a9a9a"},"encoding":{"x":{"datum":613.1},"x2":{"datum":1151.6},"y":{"datum":170.8},"y2":{"datum":148.3}}},
{"data":{"values":[{}]},"mark":{"type":"rect","fill":"#ffffff","stroke":"#707070","strokeWidth":1},"encoding":{"x":{"datum":606.9},"x2":{"datum":1145.4},"y":{"datum":172.7},"y2":{"datum":150.2}}},
{"data":{"values":[{}]},"mark":{"type":"rule","color":"#707070"},"encoding":{"x":{"datum":606.9},"x2":{"datum":1145.4},"y":{"datum":161.4}}},
{"data":{"values":[{}]},"mark":{"type":"rule","color":"#707070"},"encoding":{"x":{"datum":778.2},"y":{"datum":172.7},"y2":{"datum":150.2}}},
{"data":{"values":[{}]},"mark":{"type":"rule","color":"#707070"},"encoding":{"x":{"datum":879.3},"y":{"datum":172.7},"y2":{"datum":150.2}}},
{"data":{"values":[{}]},"mark":{"type":"rule","color":"#707070"},"encoding":{"x":{"datum":1017.5},"y":{"datum":172.7},"y2":{"datum":150.2}}},
{"data":{"values":[{}]},"mark":{"type":"text","fontSize":10.5,"color":"#333333","align":"center","baseline":"middle"},"encoding":{"x":{"datum":692.5},"y":{"datum":167.1},"text":{"value":"Name"}}},
{"data":{"values":[{}]},"mark":{"type":"text","fontSize":10.5,"color":"#333333","align":"right","baseline":"middle","dx":-3},"encoding":{"x":{"datum":828.7},"y":{"datum":167.1},"text":{"value":"k"}}},
{"data":{"values":[{}]},"mark":{"type":"text","fontSize":7.5,"color":"#333333","align":"left","baseline":"middle","dx":-3,"dy":3},"encoding":{"x":{"datum":828.7},"y":{"datum":167.1},"text":{"value":"a"}}},
{"data":{"values":[{}]},"mark":{"type":"text","fontSize":10.5,"color":"#333333","align":"right","baseline":"middle","dx":-5},"encoding":{"x":{"datum":948.4},"y":{"datum":167.1},"text":{"value":"k"}}},
{"data":{"values":[{}]},"mark":{"type":"text","fontSize":7.5,"color":"#333333","align":"left","baseline":"middle","dx":-5,"dy":3},"encoding":{"x":{"datum":948.4},"y":{"datum":167.1},"text":{"value":"d"}}},
{"data":{"values":[{}]},"mark":{"type":"text","fontSize":10.5,"color":"#333333","align":"right","baseline":"middle","dx":-4},"encoding":{"x":{"datum":1081.5},"y":{"datum":167.1},"text":{"value":"K"}}},
{"data":{"values":[{}]},"mark":{"type":"text","fontSize":7.5,"color":"#333333","align":"left","baseline":"middle","dx":-4,"dy":3},"encoding":{"x":{"datum":1081.5},"y":{"datum":167.1},"text":{"value":"D"}}},
{"data":{"values":[{}]},"mark":{"type":"text","fontSize":10.5,"color":"#333333","align":"center","baseline":"middle"},"encoding":{"x":{"datum":692.5},"y":{"datum":155.8},"text":{"value":"miR DNA22mer"}}},
{"data":{"values":[{}]},"mark":{"type":"text","fontSize":10.5,"color":"#333333","align":"center","baseline":"middle"},"encoding":{"x":{"datum":828.7},"y":{"datum":155.8},"text":{"value":"4.314e5"}}},
{"data":{"values":[{}]},"mark":{"type":"text","fontSize":10.5,"color":"#333333","align":"center","baseline":"middle"},"encoding":{"x":{"datum":948.4},"y":{"datum":155.8},"text":{"value":"0.00004186"}}},
{"data":{"values":[{}]},"mark":{"type":"text","fontSize":10.5,"color":"#333333","align":"center","baseline":"middle"},"encoding":{"x":{"datum":1081.5},"y":{"datum":155.8},"text":{"value":"97.3645pM"}}},
{"data":{"values":[{}]},"mark":{"type":"text","fontSize":12,"color":"#1a1ae6","align":"left","baseline":"middle"},"encoding":{"x":{"datum":-22.4},"y":{"datum":169.8},"text":{"value":"1.25 uM miR PNA18(C'T;N'L)-DNA22"}}},
{"data":{"values":[{}]},"mark":{"type":"rect","fill":"#9a9a9a"},"encoding":{"x":{"datum":945.3},"x2":{"datum":1155.7},"y":{"datum":88.9},"y2":{"datum":-31.7}}}
]
}
